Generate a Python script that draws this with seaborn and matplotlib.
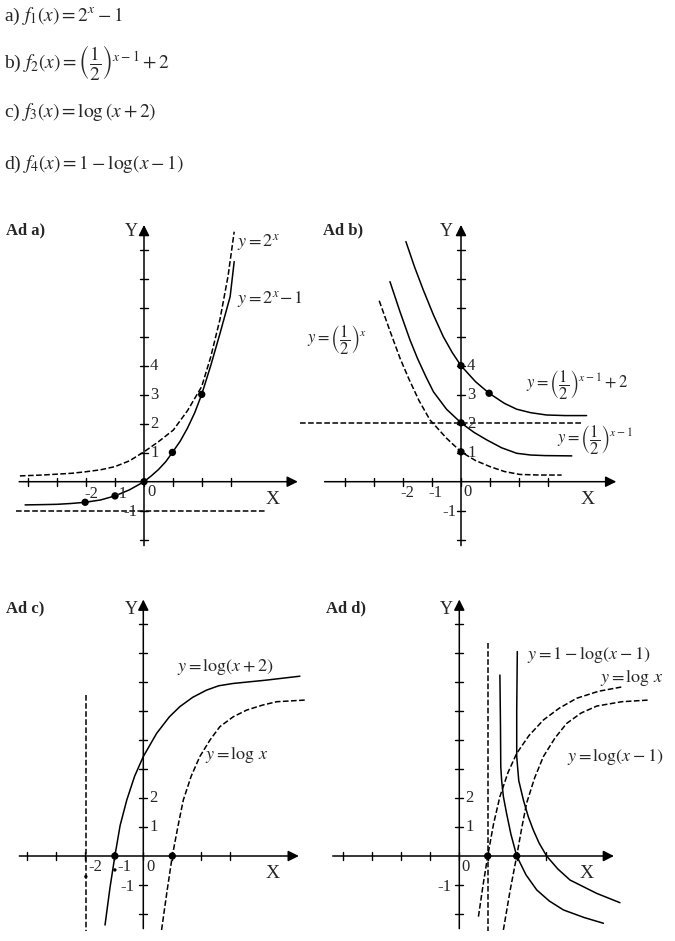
import numpy as np
import matplotlib
matplotlib.use("Agg")
import matplotlib.pyplot as plt
import seaborn as sns

sns.set_style("white")
plt.rcParams['font.family'] = ['Liberation Serif', 'DejaVu Serif']
plt.rcParams['mathtext.fontset'] = 'stix'

W, H = 675, 941
UNIT = 29  # pixels per unit on both axes

# ---- panel a) ----
a_solid_x = [-4.1, -3.5, -3.0, -2.5, -2.03, -1.5, -1.0, -0.5, 0.0, 0.25, 0.5, 0.75, 0.98, 1.25, 1.5, 1.75, 1.99, 2.3, 2.62, 2.97, 3.11]
a_solid_y = [-0.8, -0.79, -0.78, -0.75, -0.71, -0.63, -0.49, -0.28, 0.0, 0.2, 0.42, 0.69, 1.01, 1.4, 1.85, 2.38, 3.01, 4.0, 5.11, 6.38, 7.59]
a_dash_x = [-4.28, -3.5, -3.0, -2.5, -2.03, -1.5, -1.0, -0.5, 0.0, 0.5, 1.01, 1.5, 1.99, 2.3, 2.62, 2.9, 3.11]
a_dash_y = [0.2, 0.23, 0.26, 0.29, 0.34, 0.41, 0.52, 0.72, 1.03, 1.38, 1.78, 2.45, 3.28, 4.3, 5.6, 7.1, 8.62]
a_dots_x = [-2.03, -1.0, 0.0, 0.98, 1.99]
a_dots_y = [-0.71, -0.49, 0.0, 1.01, 3.01]

# ---- panel b) ----
b_top_x = [-1.9, -1.6, -1.3, -0.95, -0.61, -0.3, 0.0, 0.5, 0.97, 1.5, 1.92, 2.4, 2.95, 3.6, 4.33]
b_top_y = [8.28, 7.4, 6.61, 5.75, 5.0, 4.45, 4.0, 3.45, 3.05, 2.7, 2.5, 2.38, 2.3, 2.28, 2.28]
b_mid_x = [-2.45, -2.1, -1.76, -1.5, -1.2, -0.95, -0.5, 0.0, 0.45, 0.89, 1.4, 1.92, 2.4, 2.9, 3.82]
b_mid_y = [6.9, 5.85, 4.89, 4.25, 3.6, 3.1, 2.5, 2.03, 1.7, 1.44, 1.17, 0.98, 0.92, 0.9, 0.89]
b_dash_x = [-2.82, -2.45, -2.1, -1.8, -1.45, -1.07, -0.5, 0.0, 0.5, 1.0, 1.5, 2.03, 2.7, 3.47]
b_dash_y = [6.24, 5.2, 4.25, 3.55, 2.8, 2.13, 1.5, 1.03, 0.73, 0.52, 0.35, 0.25, 0.23, 0.23]
b_dots_x = [0.0, 0.97, 0.0, 0.0]
b_dots_y = [4.0, 3.05, 2.03, 1.03]

# ---- panel c) ----
c_solid_x = [-1.32, -1.15, -0.98, -0.8, -0.57, -0.3, 0.0, 0.46, 0.9, 1.26, 1.7, 2.18, 2.6, 3.1, 4.2, 5.4]
c_solid_y = [-2.38, -1.1, 0.0, 1.05, 1.93, 2.75, 3.43, 4.23, 4.8, 5.15, 5.47, 5.72, 5.87, 5.95, 6.06, 6.2]
c_dash_x = [0.63, 0.82, 1.0, 1.2, 1.38, 1.65, 1.95, 2.3, 2.64, 3.1, 3.56, 4.1, 4.6, 5.63]
c_dash_y = [-2.55, -1.2, 0.0, 1.05, 1.93, 2.75, 3.43, 4.0, 4.46, 4.8, 5.03, 5.2, 5.32, 5.38]
c_dots_x = [-0.98, 1.0]
c_dots_y = [0.0, 0.0]

# ---- panel d) ----
d_left_x = [1.4, 1.42, 1.43, 1.46, 1.52, 1.63, 1.78, 1.98, 2.3, 2.67, 3.1, 3.59, 4.3, 4.97]
d_left_y = [6.24, 4.5, 3.08, 2.6, 2.05, 1.47, 0.75, 0.0, -0.65, -1.17, -1.55, -1.86, -2.12, -2.32]
d_right_x = [2.0, 1.99, 1.98, 1.98, 2.05, 2.21, 2.38, 2.55, 2.75, 3.01, 3.4, 3.82, 4.74, 5.54]
d_right_y = [7.05, 6.0, 5.0, 3.43, 2.6, 1.93, 1.35, 0.9, 0.45, 0.0, -0.45, -0.83, -1.29, -1.61]
d_logx_x = [0.66, 0.82, 0.98, 1.18, 1.4, 1.68, 1.98, 2.4, 2.9, 3.45, 4.05, 4.8, 5.66]
d_logx_y = [-2.09, -1.0, 0.0, 1.1, 2.05, 2.88, 3.54, 4.15, 4.69, 5.1, 5.44, 5.68, 5.84]
d_logx1_x = [1.52, 1.75, 1.98, 2.15, 2.32, 2.6, 2.9, 3.3, 3.7, 4.2, 4.74, 5.6, 6.57]
d_logx1_y = [-2.55, -1.2, 0.0, 0.95, 1.82, 2.7, 3.43, 4.07, 4.57, 4.93, 5.17, 5.32, 5.38]
d_dots_x = [0.98, 1.98]
d_dots_y = [0.0, 0.0]

fig = plt.figure(figsize=(W / 100, H / 100), dpi=100)


def make_panel(left, top, width, height, ox, oy):
    ax = fig.add_axes([left / W, 1 - (top + height) / H, width / W, height / H])
    ax.set_xlim((left - ox) / UNIT, (left + width - ox) / UNIT)
    ax.set_ylim((oy - top - height) / UNIT, (oy - top) / UNIT)
    ax.axis('off')
    return ax


def draw_axes(ax, x0, x1, y0, y1, xticks, yticks):
    ax.annotate('', xy=(x1, 0), xytext=(x0, 0),
                arrowprops=dict(arrowstyle='-|>', color='black', lw=1.1, mutation_scale=16))
    ax.annotate('', xy=(0, y1), xytext=(0, y0),
                arrowprops=dict(arrowstyle='-|>', color='black', lw=1.1, mutation_scale=16))
    for t in xticks:
        ax.plot([t, t], [-0.14, 0.14], color='black', lw=1)
    for t in yticks:
        ax.plot([-0.14, 0.14], [t, t], color='black', lw=1)


def curve(ax, xs, ys, dashed=False):
    sns.lineplot(x=xs, y=ys, ax=ax, sort=False, color='black', lw=1.1,
                 linestyle='--' if dashed else '-', estimator=None)


def dots(ax, xs, ys, size=28):
    sns.scatterplot(x=xs, y=ys, ax=ax, color='black', s=size, edgecolor='none', zorder=5)


def ftext(x, y, s, size=13, **kw):
    fig.text(x / W, 1 - y / H, s, fontsize=size, va='center', **kw)


# top formulas
ftext(4, 16, r'a) $f_1(x)=2^x-1$', 14)
ftext(4, 63, r'b) $f_2(x)=\left(\dfrac{1}{2}\right)^{x-1}+2$', 14)
ftext(4, 112, r'c) $f_3(x)=\log\left(x+2\right)$', 14)
ftext(4, 164, r'd) $f_4(x)=1-\log(x-1)$', 14)

# panel a
ax = make_panel(0, 200, 330, 360, 144, 481.7)
draw_axes(ax, -4.4, 5.4, -2.3, 8.95, range(-4, 4), [t for t in range(-2, 9) if t != 0])
ax.plot([-4.41, 4.17], [-1, -1], color='black', lw=1.1, linestyle='--')
curve(ax, a_dash_x, a_dash_y, dashed=True)
curve(ax, a_solid_x, a_solid_y)
dots(ax, a_dots_x, a_dots_y)
ftext(6, 230, 'Ad a)', 12, weight='bold')
ftext(125, 231, 'Y', 13)
ftext(266, 499, 'X', 14)
ftext(237, 243, r'$y=2^x$', 13)
ftext(237, 300, r'$y=2^x\!-1$', 13)
for v in [1, 2, 3, 4]:
    ftext(150, 481.7 - v * UNIT, str(v), 12)
ftext(84, 494, '-2', 12)
ftext(113, 494, '-1', 12)
ftext(147, 492, '0', 12)
ftext(123, 512, '-1', 12)

# panel b
ax = make_panel(300, 200, 375, 360, 461, 481.7)
draw_axes(ax, -4.8, 5.45, -2.3, 8.95, range(-4, 4), [t for t in range(-2, 9) if t != 0])
ax.plot([-5.55, 4.22], [2.03, 2.03], color='black', lw=1.1, linestyle='--')
curve(ax, b_dash_x, b_dash_y, dashed=True)
curve(ax, b_mid_x, b_mid_y)
curve(ax, b_top_x, b_top_y)
dots(ax, b_dots_x, b_dots_y)
ftext(323, 230, 'Ad b)', 12, weight='bold')
ftext(440, 231, 'Y', 13)
ftext(581, 499, 'X', 14)
ftext(307, 340, r'$y=\left(\dfrac{1}{2}\right)^{x}$', 12)
ftext(526, 385, r'$y=\left(\dfrac{1}{2}\right)^{x-1}+2$', 12)
ftext(557, 440, r'$y=\left(\dfrac{1}{2}\right)^{x-1}$', 12)
for v in [1, 2, 3, 4]:
    ftext(467, 481.7 - v * UNIT, str(v), 12)
ftext(400, 493, '-2', 12)
ftext(428, 493, '-1', 12)
ftext(463, 492, '0', 12)
ftext(442, 512, '-1', 12)

# panel c
ax = make_panel(0, 580, 330, 361, 143.3, 856)
draw_axes(ax, -4.37, 5.46, -2.6, 8.94, range(-4, 4), [t for t in range(-2, 9) if t != 0])
ax.plot([-1.98, -1.98], [5.55, -2.6], color='black', lw=1.1, linestyle='--')
curve(ax, c_dash_x, c_dash_y, dashed=True)
curve(ax, c_solid_x, c_solid_y)
dots(ax, c_dots_x, c_dots_y)
dots(ax, [-1.98, -0.98], [-0.71, -0.48], size=6)
ftext(6, 608, 'Ad c)', 12, weight='bold')
ftext(125, 610, 'Y', 13)
ftext(266, 873, 'X', 14)
ftext(177, 667, r'$y=\log(x+2)$', 13)
ftext(205, 755, r'$y=\log\,x$', 13)
ftext(149, 856 - 2 * UNIT, '2', 12)
ftext(149, 856 - UNIT, '1', 12)
ftext(120, 887, '-1', 12)
ftext(88, 867, '-2', 12)
ftext(117, 867, '-1', 12)
ftext(146, 867, '0', 12)

# panel d
ax = make_panel(330, 580, 345, 361, 459.3, 856)
draw_axes(ax, -4.46, 5.43, -2.6, 8.94, range(-4, 4), [t for t in range(-2, 9) if t != 0])
ax.plot([0.98, 0.98], [7.33, -2.6], color='black', lw=1.1, linestyle='--')
curve(ax, d_logx_x, d_logx_y, dashed=True)
curve(ax, d_logx1_x, d_logx1_y, dashed=True)
curve(ax, d_left_x, d_left_y)
curve(ax, d_right_x, d_right_y)
dots(ax, d_dots_x, d_dots_y)
ftext(326, 608, 'Ad d)', 12, weight='bold')
ftext(440, 610, 'Y', 13)
ftext(580, 873, 'X', 14)
ftext(527, 655, r'$y=1-\log(x-1)$', 13)
ftext(600, 678, r'$y=\log\,x$', 13)
ftext(567, 757, r'$y=\log(x-1)$', 13)
ftext(465, 856 - 2 * UNIT, '2', 12)
ftext(465, 856 - UNIT, '1', 12)
ftext(437, 887, '-1', 12)
ftext(461, 867, '0', 12)

fig.savefig('out.png', dpi=100, facecolor='white')
